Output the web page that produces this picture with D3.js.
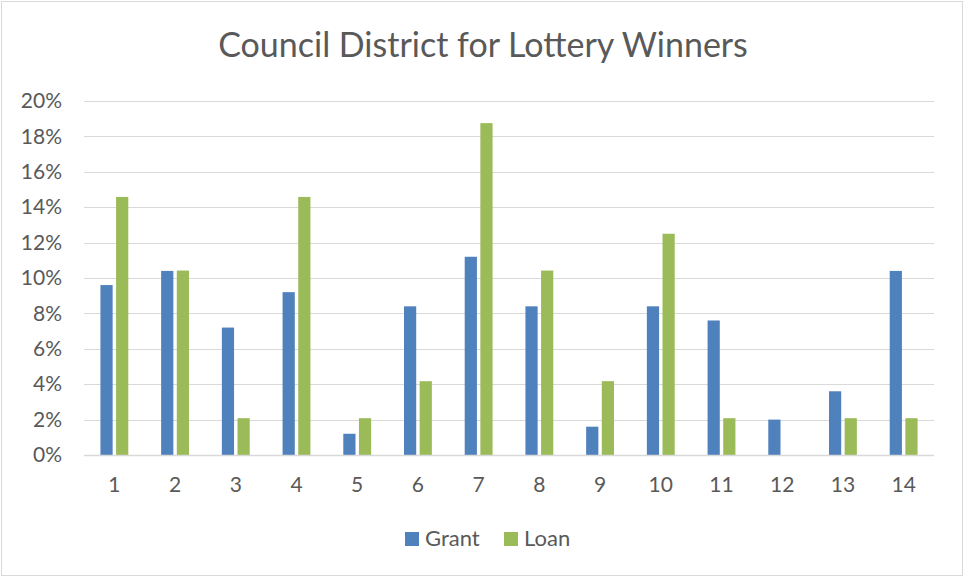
<!DOCTYPE html>
<html>
<head>
<meta charset="utf-8">
<script src="https://cdn.jsdelivr.net/npm/d3@7"></script>
<style>
  body { margin: 0; background: #fff; }
  svg { display: block; font-family: Lato, "Liberation Sans", sans-serif; }
</style>
</head>
<body>
<div id="chart"></div>
<script>
// Data (share of winners per council district)
const districts = ["1", "2", "3", "4", "5", "6", "7", "8", "9", "10", "11", "12", "13", "14"];
const grant = [0.096, 0.104, 0.072, 0.092, 0.012, 0.084, 0.112, 0.084, 0.016, 0.084, 0.076, 0.020, 0.036, 0.104];
const loan = [0.1458, 0.1042, 0.0208, 0.1458, 0.0208, 0.0417, 0.1875, 0.1042, 0.0417, 0.125, 0.0208, 0, 0.0208, 0.0208];
const seriesNames = ["Grant", "Loan"];
const seriesColors = ["#4F81BD", "#9BBB59"];
const yTicks = [0, 0.02, 0.04, 0.06, 0.08, 0.10, 0.12, 0.14, 0.16, 0.18, 0.20];

const width = 964, height = 577;
const margin = {top: 101, right: 30, bottom: 122, left: 84};

const svg = d3.select("#chart").append("svg")
  .attr("width", width)
  .attr("height", height);

// outer chart border
svg.append("rect")
  .attr("x", 1.5).attr("y", 1.5)
  .attr("width", width - 3).attr("height", height - 3)
  .attr("fill", "#fff")
  .attr("stroke", "#d9d9d9");

// title
svg.append("text")
  .attr("x", 483)
  .attr("y", 57)
  .attr("text-anchor", "middle")
  .attr("fill", "#595959")
  .style("font-size", "34px")
  .text("Council District for Lottery Winners");

var x = d3.scaleBand()
  .domain(districts)
  .range([margin.left, width - margin.right]);

var xInner = d3.scaleBand()
  .domain(seriesNames)
  .range([0, x.bandwidth()])
  .paddingInner(0.22)
  .paddingOuter(1.05);

var y = d3.scaleLinear()
  .domain([0, 0.2])
  .range([height - margin.bottom, margin.top]);

// gridlines
svg.append("g")
  .selectAll("line")
  .data(yTicks)
  .enter()
  .append("line")
  .attr("x1", margin.left)
  .attr("x2", width - margin.right)
  .attr("y1", d => Math.round(y(d)) + 0.5)
  .attr("y2", d => Math.round(y(d)) + 0.5)
  .attr("stroke", "#d9d9d9")
  .attr("stroke-width", 1);

// y labels
var yAxis = svg.append("g")
  .attr("transform", "translate(" + (margin.left - 19) + ",0)")
  .call(d3.axisLeft(y).tickValues(yTicks).tickFormat(d3.format(".0%")).tickSize(0));
yAxis.select(".domain").remove();
yAxis.selectAll("text")
  .attr("fill", "#595959")
  .style("font-size", "21px")
  .style("font-family", "Lato, 'Liberation Sans', sans-serif");

// bars
var rows = districts.map((d, i) => ({district: d, values: [grant[i], loan[i]]}));

var groups = svg.append("g")
  .selectAll("g")
  .data(rows)
  .enter()
  .append("g")
  .attr("transform", d => "translate(" + x(d.district) + ",0)");

groups.selectAll("rect")
  .data(d => d.values.map((v, j) => ({name: seriesNames[j], value: v, j: j})))
  .enter()
  .append("rect")
  .attr("x", d => xInner(d.name))
  .attr("width", xInner.bandwidth())
  .attr("y", d => y(d.value))
  .attr("height", d => y(0) - y(d.value))
  .attr("fill", d => seriesColors[d.j]);

// baseline
svg.append("line")
  .attr("x1", margin.left)
  .attr("x2", width - margin.right)
  .attr("y1", y(0) + 0.5)
  .attr("y2", y(0) + 0.5)
  .attr("stroke", "#d9d9d9")
  .attr("stroke-width", 1.5);

// x labels
var xAxis = svg.append("g")
  .attr("transform", "translate(0," + (y(0) + 19) + ")")
  .call(d3.axisBottom(x).tickSize(0));
xAxis.select(".domain").remove();
xAxis.selectAll("text")
  .attr("fill", "#595959")
  .style("font-size", "21px")
  .style("font-family", "Lato, 'Liberation Sans', sans-serif");

// legend
var legendX = [405, 504];
var legend = svg.append("g")
  .selectAll("g")
  .data(seriesNames)
  .enter()
  .append("g")
  .attr("transform", (d, i) => "translate(" + legendX[i] + ",532)");

legend.append("rect")
  .attr("width", 14)
  .attr("height", 14)
  .attr("fill", (d, i) => seriesColors[i]);

legend.append("text")
  .attr("x", 20)
  .attr("y", 14)
  .attr("fill", "#595959")
  .style("font-size", "22px")
  .text(d => d);
</script>
</body>
</html>
